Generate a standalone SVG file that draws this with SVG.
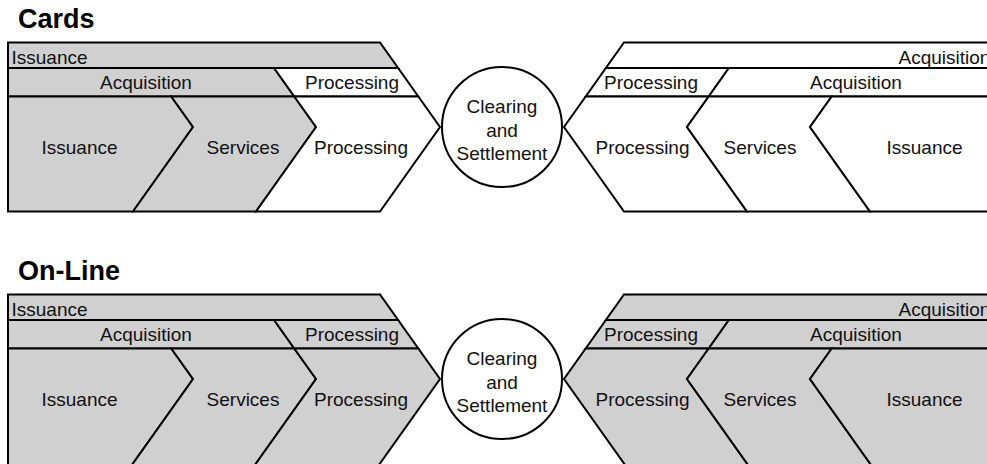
<svg xmlns="http://www.w3.org/2000/svg" width="987" height="464" viewBox="0 0 987 464">
<style>
.g{fill:#d0d0d0;stroke:#000;stroke-width:2;stroke-linejoin:miter}
.w{fill:#fff;stroke:#000;stroke-width:2;stroke-linejoin:miter}
text{font-family:"Liberation Sans",Arial,sans-serif;font-size:19px;fill:#111}
.c{text-anchor:middle}
.t{font-size:27px;font-weight:bold;fill:#000}
</style>
<rect width="987" height="464" fill="#fff"/>
<text class="t" x="18" y="28">Cards</text>
<text class="t" x="18" y="280">On-Line</text>

<!-- Cards -->
<g id="cards">
<g id="c-l-issuance-bar"><polygon class="g" points="8,42.5 380,42.5 398.1,68 8,68"/><text x="11.5" y="64">Issuance</text></g>
<g id="c-l-acquisition-bar"><polygon class="g" points="8,68 274.1,68 294.3,96.5 8,96.5"/><text class="c" x="146" y="89">Acquisition</text></g>
<g id="c-l-processing-bar"><polygon class="w" points="274.1,68 398.1,68 418.3,96.5 294.3,96.5"/><text class="c" x="352" y="89">Processing</text></g>
<g id="c-l-issuance"><polygon class="g" points="8,96.5 171.3,96.5 193,127 133,211.5 8,211.5"/><text class="c" x="79.5" y="154">Issuance</text></g>
<g id="c-l-services"><polygon class="g" points="171.3,96.5 294.3,96.5 316,127 256,211.5 133,211.5 193,127"/><text class="c" x="243" y="154">Services</text></g>
<g id="c-l-processing"><polygon class="w" points="294.3,96.5 418.3,96.5 440,127 380,211.5 256,211.5 316,127"/><text class="c" x="361" y="154">Processing</text></g>
<g id="c-clearing"><circle class="w" cx="502" cy="127" r="60"/><text class="c" x="502" y="113">Clearing</text><text class="c" x="502" y="136.5">and</text><text class="c" x="502" y="160">Settlement</text></g>
<g id="c-r-acquisition-bar"><polygon class="w" points="624,42.5 1000,42.5 1000,68 605.9,68"/><text x="898.5" y="64">Acquisition</text></g>
<g id="c-r-processing-bar"><polygon class="w" points="605.9,68 728.9,68 708.7,96.5 585.7,96.5"/><text class="c" x="651" y="89">Processing</text></g>
<g id="c-r-acquisition-bar2"><polygon class="w" points="728.9,68 1000,68 1000,96.5 708.7,96.5"/><text class="c" x="856" y="89">Acquisition</text></g>
<g id="c-r-processing"><polygon class="w" points="585.7,96.5 708.7,96.5 687,127 747,211.5 624,211.5 564,127"/><text class="c" x="642.5" y="154">Processing</text></g>
<g id="c-r-services"><polygon class="w" points="708.7,96.5 831.7,96.5 810,127 870,211.5 747,211.5 687,127"/><text class="c" x="760" y="154">Services</text></g>
<g id="c-r-issuance"><polygon class="w" points="831.7,96.5 1000,96.5 1000,211.5 870,211.5 810,127"/><text class="c" x="924.5" y="154">Issuance</text></g>
</g>

<!-- On-Line -->
<g id="online" transform="translate(0,252)">
<g id="o-l-issuance-bar"><polygon class="g" points="8,42.5 380,42.5 398.1,68 8,68"/><text x="11.5" y="64">Issuance</text></g>
<g id="o-l-acquisition-bar"><polygon class="g" points="8,68 274.1,68 294.3,96.5 8,96.5"/><text class="c" x="146" y="89">Acquisition</text></g>
<g id="o-l-processing-bar"><polygon class="g" points="274.1,68 398.1,68 418.3,96.5 294.3,96.5"/><text class="c" x="352" y="89">Processing</text></g>
<g id="o-l-issuance"><polygon class="g" points="8,96.5 171.3,96.5 193,127 131.2,214 8,214"/><text class="c" x="79.5" y="154">Issuance</text></g>
<g id="o-l-services"><polygon class="g" points="171.3,96.5 294.3,96.5 316,127 254.2,214 131.2,214 193,127"/><text class="c" x="243" y="154">Services</text></g>
<g id="o-l-processing"><polygon class="g" points="294.3,96.5 418.3,96.5 440,127 378.2,214 254.2,214 316,127"/><text class="c" x="361" y="154">Processing</text></g>
<g id="o-clearing"><circle class="w" cx="502" cy="127" r="60"/><text class="c" x="502" y="113">Clearing</text><text class="c" x="502" y="136.5">and</text><text class="c" x="502" y="160">Settlement</text></g>
<g id="o-r-acquisition-bar"><polygon class="g" points="624,42.5 1000,42.5 1000,68 605.9,68"/><text x="898.5" y="64">Acquisition</text></g>
<g id="o-r-processing-bar"><polygon class="g" points="605.9,68 728.9,68 708.7,96.5 585.7,96.5"/><text class="c" x="651" y="89">Processing</text></g>
<g id="o-r-acquisition-bar2"><polygon class="g" points="728.9,68 1000,68 1000,96.5 708.7,96.5"/><text class="c" x="856" y="89">Acquisition</text></g>
<g id="o-r-processing"><polygon class="g" points="585.7,96.5 708.7,96.5 687,127 748.8,214 625.8,214 564,127"/><text class="c" x="642.5" y="154">Processing</text></g>
<g id="o-r-services"><polygon class="g" points="708.7,96.5 831.7,96.5 810,127 871.8,214 748.8,214 687,127"/><text class="c" x="760" y="154">Services</text></g>
<g id="o-r-issuance"><polygon class="g" points="831.7,96.5 1000,96.5 1000,214 871.8,214 810,127"/><text class="c" x="924.5" y="154">Issuance</text></g>
</g>
<g id="connectors"></g>
</svg>
